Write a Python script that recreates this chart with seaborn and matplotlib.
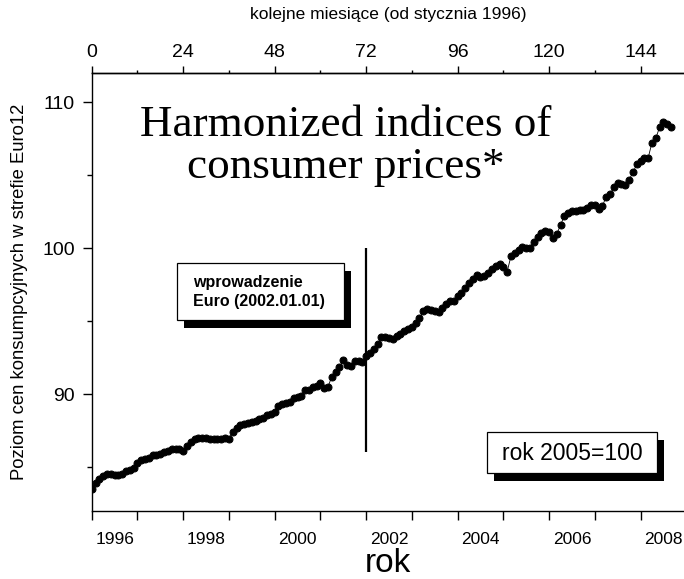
import numpy as np
import pandas as pd
import matplotlib
matplotlib.use("Agg")
import matplotlib.pyplot as plt
from matplotlib.patches import Rectangle
from matplotlib.ticker import FixedLocator, MultipleLocator
import seaborn as sns

# HICP euro area (2005=100), monthly values, Jan 1996 ->
hicp_1996 = [83.5, 83.9, 84.2, 84.4, 84.5, 84.5, 84.45, 84.45, 84.55, 84.7, 84.8, 84.9]
hicp_1997 = [85.25, 85.45, 85.55, 85.6, 85.8, 85.85, 85.9, 86.05, 86.1, 86.2, 86.2, 86.25]
hicp_1998 = [86.1, 86.45, 86.7, 86.95, 87.0, 87.0, 87.0, 86.95, 86.95, 86.9, 86.95, 87.0]
hicp_1999 = [86.95, 87.4, 87.7, 87.9, 87.95, 88.0, 88.1, 88.15, 88.3, 88.35, 88.55, 88.65]
hicp_2000 = [88.8, 89.15, 89.3, 89.4, 89.45, 89.7, 89.8, 89.85, 90.25, 90.3, 90.45, 90.55]
hicp_2001 = [90.75, 90.4, 90.5, 91.2, 91.5, 91.85, 92.35, 92.0, 91.95, 92.25, 92.3, 92.2]
hicp_2002 = [92.6, 92.8, 93.1, 93.4, 93.9, 93.9, 93.85, 93.8, 94.0, 94.15, 94.3, 94.45]
hicp_2003 = [94.6, 94.85, 95.2, 95.7, 95.8, 95.75, 95.7, 95.65, 95.9, 96.2, 96.35, 96.4]
hicp_2004 = [96.7, 96.9, 97.3, 97.65, 97.9, 98.15, 98.05, 98.1, 98.3, 98.55, 98.75, 98.9]
hicp_2005 = [98.7, 98.4, 99.45, 99.7, 99.9, 100.1, 100.05, 100.0, 100.45, 100.75, 101.05, 101.2]
hicp_2006 = [101.1, 100.7, 100.95, 101.6, 102.2, 102.45, 102.55, 102.55, 102.6, 102.65, 102.75, 102.95]
hicp_2007 = [103.0, 102.7, 102.9, 103.55, 103.7, 104.2, 104.45, 104.4, 104.35, 104.7, 105.2, 105.75]
hicp_2008 = [106.0, 106.2, 106.2, 107.25, 107.55, 108.3, 108.65, 108.5, 108.35]

hicp = (hicp_1996 + hicp_1997 + hicp_1998 + hicp_1999 + hicp_2000 + hicp_2001 + hicp_2002
        + hicp_2003 + hicp_2004 + hicp_2005 + hicp_2006 + hicp_2007 + hicp_2008)
df = pd.DataFrame({"miesiac": np.arange(len(hicp)), "hicp": hicp})

month_ticks = [0, 24, 48, 72, 96, 120, 144]
year_labels = ["1996", "1998", "2000", "2002", "2004", "2006", "2008"]
euro_month = 72

sns.set_style("ticks")
plt.rcParams["font.family"] = ["Liberation Sans", "DejaVu Sans"]
plt.rcParams.update({
    "text.color": "black", "axes.labelcolor": "black", "axes.edgecolor": "black",
    "xtick.color": "black", "ytick.color": "black",
})

W, H = 684, 579
fig = plt.figure(figsize=(W / 100, H / 100), dpi=100)
left, right, top, bottom = 91.7, 684, 73.3, 510.7
ax = fig.add_axes([left / W, 1 - bottom / H, (right - left) / W, (bottom - top) / H])


def fxy(x, y):
    return x / W, 1 - y / H


sns.lineplot(data=df, x="miesiac", y="hicp", ax=ax, color="black", lw=0.6,
             marker="o", markersize=5, markeredgecolor="black", markerfacecolor="black")
ax.vlines(euro_month, 86, 100, color="black", lw=1.6)

ax.set_xlim(0, 155.4)
ax.set_ylim(82, 112)
ax.set_xlabel("")
ax.set_ylabel("Poziom cen konsumpcyjnych w strefie Euro12", fontsize=13.3)
ax.yaxis.set_label_coords(-0.108, 0.5)

for s in ["left", "bottom", "top"]:
    ax.spines[s].set_linewidth(1.0)
ax.spines["right"].set_visible(False)

# y axis
ax.set_yticks([90, 100, 110])
ax.yaxis.set_minor_locator(FixedLocator([85, 95, 105]))
ax.tick_params(axis="y", which="major", direction="out", length=6.5, width=1.0,
               labelsize=14, pad=5.5)
ax.tick_params(axis="y", which="minor", direction="out", length=3.6, width=1.0)

# bottom: year boundaries as ticks, labels at mid-year
ax.xaxis.set_major_locator(MultipleLocator(12))
ax.xaxis.set_major_formatter(plt.NullFormatter())
ax.xaxis.set_minor_locator(FixedLocator([m + 6 for m in month_ticks]))
ax.set_xticklabels(year_labels, minor=True)
ax.tick_params(axis="x", which="major", direction="out", length=6.5, width=1.0)
ax.tick_params(axis="x", which="minor", length=0, labelsize=12.5, pad=15)

# top axis: months since January 1996
sec = ax.secondary_xaxis("top")
sec.set_xticks(month_ticks)
sec.xaxis.set_minor_locator(MultipleLocator(12))
sec.tick_params(axis="x", which="major", direction="out", length=5, width=1.0,
                labelsize=14, pad=4)
sec.tick_params(axis="x", which="minor", direction="out", length=2.5, width=1.0)
sec.spines["top"].set_linewidth(1.0)

fig.text(*fxy(388, 15), "kolejne miesiące (od stycznia 1996)", ha="center", va="center",
         fontsize=12.5)
fig.text(*fxy(388, 563), "rok", ha="center", va="center", fontsize=24)

fig.text(*fxy(346, 146), "Harmonized indices of\nconsumer prices*", ha="center",
         va="center", fontsize=32.5, family=["Liberation Serif", "DejaVu Serif"],
         multialignment="center", linespacing=1.08)


def shadow_box(x0, y0, x1, y1, dx=7, dy=8):
    sx, sy = fxy(x0 + dx, y1 + dy)
    fig.add_artist(Rectangle((sx, sy), (x1 - x0) / W, (y1 - y0) / H,
                             transform=fig.transFigure, fc="black", ec="black", lw=0))
    bx, by = fxy(x0, y1)
    fig.add_artist(Rectangle((bx, by), (x1 - x0) / W, (y1 - y0) / H,
                             transform=fig.transFigure, fc="white", ec="black", lw=0.9))


shadow_box(177, 263, 344, 320)
fig.text(*fxy(193, 292), "wprowadzenie\nEuro (2002.01.01)", ha="left", va="center",
         fontsize=11.5, fontweight="bold", linespacing=1.35)

shadow_box(487, 432, 657, 473)
fig.text(*fxy(572, 453), "rok 2005=100", ha="center", va="center", fontsize=16.5)

fig.savefig("out.png", dpi=100)
